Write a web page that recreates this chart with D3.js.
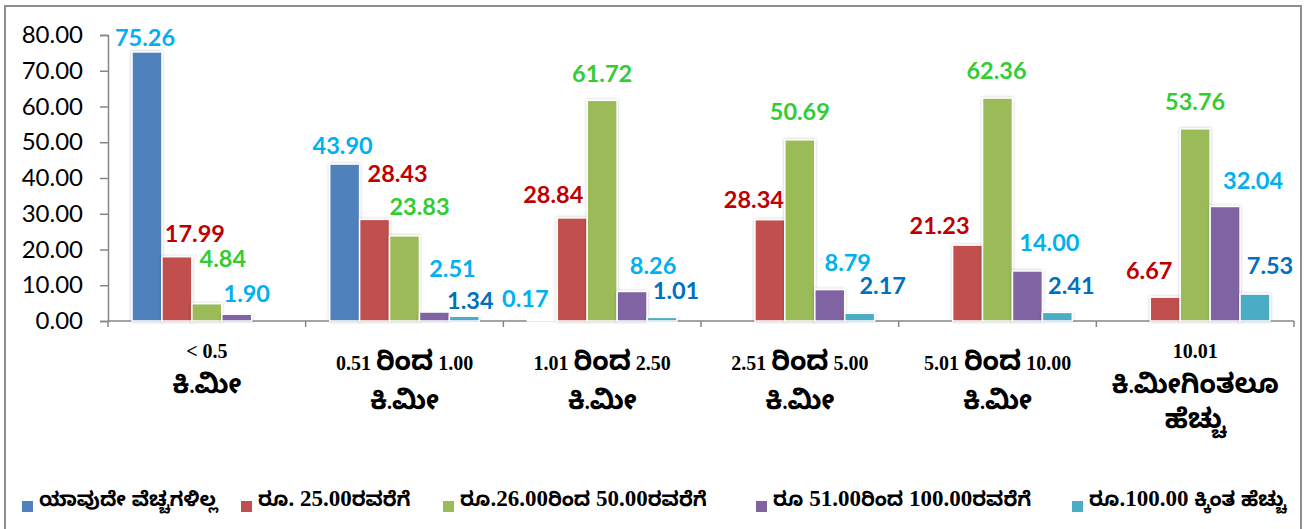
<!DOCTYPE html>
<html>
<head>
<meta charset="utf-8">
<script src="https://cdn.jsdelivr.net/npm/d3@7"></script>
<style>
  body { margin: 0; background: #fff; }
  svg { display: block; }
</style>
</head>
<body>
<svg id="chart" width="1315" height="529"></svg>
<script>
// categories (distance), each one a list of label lines
var categories = [
  ['< 0.5', 'ಕಿ.ಮೀ'],
  ['0.51 ರಿಂದ 1.00', 'ಕಿ.ಮೀ'],
  ['1.01 ರಿಂದ 2.50', 'ಕಿ.ಮೀ'],
  ['2.51 ರಿಂದ 5.00', 'ಕಿ.ಮೀ'],
  ['5.01 ರಿಂದ 10.00', 'ಕಿ.ಮೀ'],
  ['10.01', 'ಕಿ.ಮೀಗಿಂತಲೂ', 'ಹೆಚ್ಚು']
];

var seriesNames = [
  'ಯಾವುದೇ ವೆಚ್ಚಗಳಿಲ್ಲ',
  'ರೂ. 25.00ರವರೆಗೆ',
  'ರೂ.26.00ರಿಂದ 50.00ರವರೆಗೆ',
  'ರೂ 51.00ರಿಂದ 100.00ರವರೆಗೆ',
  'ರೂ.100.00 ಕ್ಕಿಂತ ಹೆಚ್ಚು'
];

// values per series, null = no bar
var noExpense = [75.26, 43.90, 0.17, null, null, null];
var upTo25    = [17.99, 28.43, 28.84, 28.34, 21.23, 6.67];
var from26    = [4.84, 23.83, 61.72, 50.69, 62.36, 53.76];
var from51    = [1.90, 2.51, 8.26, 8.79, 14.00, 32.04];
var over100   = [null, 1.34, 1.01, 2.17, 2.41, 7.53];

var yTicks = [0, 10, 20, 30, 40, 50, 60, 70, 80];

var seriesValues = [noExpense, upTo25, from26, from51, over100];
var barColors   = ['#4F81BD', '#C0504D', '#9BBB59', '#8064A2', '#4BACC6'];
var labelColors = ['#00B0F0', '#C00000', '#33CC33', '#00B0F0', '#0070C0'];

// hand-placed label nudges from the original (dx, dy from bar centre / bar top)
var labelNudge = [
  [[-2,-14], [-2,-19], [-17,-22], null, null, null],
  [[18,-23], [23,-46], [-19,-23], [-16,-20], [-28,-20], [-16,-27]],
  [[16,-45], [15,-29], [0,-27], [0,-28], [-1,-28], [0,-27]],
  [[10,-21], [18,-44], [21,-26], [18,-27], [22,-28], [28,-26]],
  [null, [6,-16], [14,-27], [23,-28], [14,-27], [15,-29]]
];

var svg = d3.select('#chart');
var kn = /[\u0C80-\u0CFF]/;
var knFont = '"Noto Sans Kannada","Lohit Kannada","Tunga","Noto Sans",sans-serif';

// outer frame
svg.append('rect')
  .attr('x', 5).attr('y', 6)
  .attr('width', 1296).attr('height', 530)
  .attr('fill', 'none')
  .attr('stroke', '#8f8f8f')
  .attr('stroke-width', 2);

var defs = svg.append('defs');
var f = defs.append('filter').attr('id', 'shadow')
  .attr('x', '-30%').attr('y', '-10%').attr('width', '160%').attr('height', '130%');
f.append('feDropShadow')
  .attr('dx', 0).attr('dy', 0).attr('stdDeviation', 1.5)
  .attr('flood-color', '#000').attr('flood-opacity', 0.25);

var y = d3.scaleLinear().domain([0, 80]).range([321, 35]);

var x0 = d3.scaleBand()
  .domain(d3.range(categories.length))
  .range([108, 1294])
  .paddingInner(0.243)
  .paddingOuter(0.1215);

var x1 = d3.scaleBand()
  .domain(d3.range(seriesNames.length))
  .range([0, x0.bandwidth()]);

// y axis
var yAxis = svg.append('g')
  .attr('transform', 'translate(108,0)')
  .call(d3.axisLeft(y).tickValues(yTicks).tickFormat(d3.format('.2f')).tickSize(8).tickPadding(17));
yAxis.select('.domain').attr('stroke', '#868686').attr('stroke-width', 1.5);
yAxis.selectAll('.tick line').attr('stroke', '#868686').attr('stroke-width', 1.5);
yAxis.selectAll('.tick text')
  .attr('font-family', 'Lato, "Open Sans", sans-serif')
  .attr('font-size', 24)
  .attr('fill', '#000');

// x axis line and category boundary ticks
svg.append('line')
  .attr('x1', 108).attr('x2', 1294)
  .attr('y1', y(0)).attr('y2', y(0))
  .attr('stroke', '#868686').attr('stroke-width', 1.5);

var step = x0.step();
var bounds = d3.range(categories.length + 1).map(function(i) {
  return i < categories.length ? x0(i) - x0.paddingOuter() * step : x0(i - 1) + x0.bandwidth() + x0.paddingOuter() * step;
});
svg.selectAll('.xtick')
  .data(bounds)
  .join('line')
  .attr('class', 'xtick')
  .attr('x1', function(d) { return d; })
  .attr('x2', function(d) { return d; })
  .attr('y1', y(0))
  .attr('y2', y(0) + 6)
  .attr('stroke', '#868686').attr('stroke-width', 1.5);

// bars
var barData = [];
seriesValues.forEach(function(vals, s) {
  vals.forEach(function(v, c) {
    if (v != null) barData.push({ s: s, c: c, v: v });
  });
});

svg.append('g').selectAll('rect')
  .data(barData)
  .join('rect')
  .attr('x', function(d) { return x0(d.c) + x1(d.s); })
  .attr('y', function(d) { return y(d.v); })
  .attr('width', x1.bandwidth())
  .attr('height', function(d) { return y(0) - y(d.v); })
  .attr('fill', function(d) { return barColors[d.s]; })
  .attr('stroke', '#fff')
  .attr('stroke-width', 1.5)
  .attr('filter', 'url(#shadow)');

// value labels
svg.append('g').selectAll('text')
  .data(barData)
  .join('text')
  .attr('x', function(d) {
    var n = labelNudge[d.s][d.c] || [0, -20];
    return x0(d.c) + x1(d.s) + x1.bandwidth() / 2 + n[0];
  })
  .attr('y', function(d) {
    var n = labelNudge[d.s][d.c] || [0, -20];
    return y(d.v) + n[1] + 8.5;
  })
  .attr('text-anchor', 'middle')
  .attr('font-family', 'Lato, "Open Sans", sans-serif')
  .attr('font-weight', 'bold')
  .attr('font-size', 23.5)
  .attr('fill', function(d) { return labelColors[d.s]; })
  .text(function(d) { return d.v.toFixed(2); });

// write a line mixing serif numbers and Kannada words
function mixedLine(sel, str, numSize, knSize) {
  var parts = str.match(/[\u0C80-\u0CFF]+|[^\u0C80-\u0CFF]+/g);
  parts.forEach(function(p) {
    var isKn = kn.test(p);
    sel.append('tspan')
      .attr('font-family', isKn ? knFont : '"Liberation Serif","Times New Roman",serif')
      .attr('font-size', isKn ? knSize : numSize)
      .text(p);
  });
}

// category labels
var catG = svg.append('g').selectAll('g')
  .data(categories)
  .join('g')
  .attr('transform', function(d, i) {
    return 'translate(' + (x0(i) + x0.bandwidth() / 2) + ',0)';
  });

catG.each(function(lines, i) {
  var g = d3.select(this);
  var tall = lines[0].search(kn) >= 0;
  var first = tall ? 370 : 358;
  var gaps = tall ? [0, 39] : [0, 35, 70];
  lines.forEach(function(l, k) {
    var t = g.append('text')
      .attr('y', first + gaps[k])
      .attr('text-anchor', 'middle')
      .attr('font-weight', 'bold')
      .attr('fill', '#000');
    mixedLine(t, l, 20, 27);
  });
});

// legend
var legendX = [22, 241, 443, 756, 1072];
var leg = svg.append('g').selectAll('g')
  .data(seriesNames)
  .join('g')
  .attr('transform', function(d, i) { return 'translate(' + legendX[i] + ',0)'; });

leg.append('rect')
  .attr('x', 0).attr('y', 501)
  .attr('width', 11).attr('height', 11)
  .attr('fill', function(d, i) { return barColors[i]; });

leg.append('text')
  .attr('x', 17).attr('y', 506)
  .attr('font-weight', 'bold')
  .attr('fill', '#000')
  .each(function(d) { mixedLine(d3.select(this), d, 23, 20); });
</script>
</body>
</html>
